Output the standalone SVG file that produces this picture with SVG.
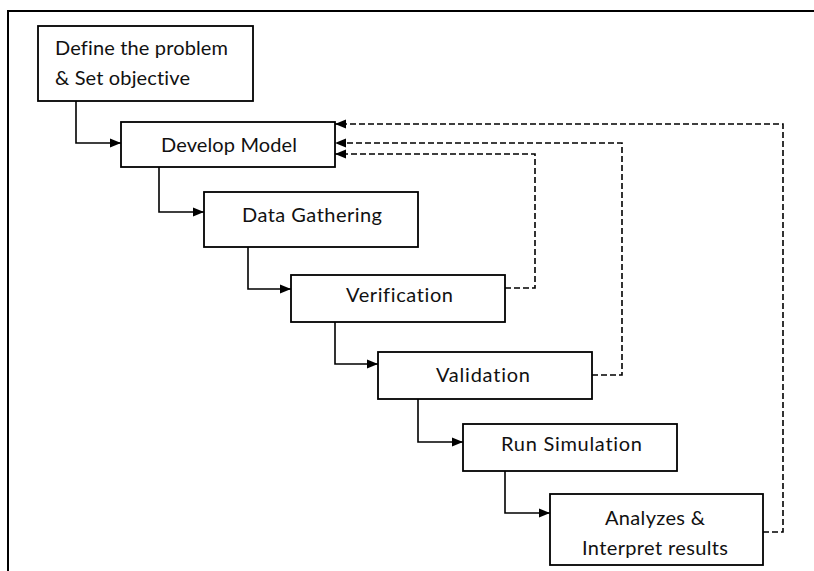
<svg xmlns="http://www.w3.org/2000/svg" width="814" height="571" viewBox="0 0 814 571">
  <style>
    .box { fill: #ffffff; stroke: #000000; stroke-width: 1.8; }
    .lbl { font-family: Lato, "Open Sans", "Liberation Sans", sans-serif; font-size: 20px; fill: #111111; font-variant-ligatures: none; font-feature-settings: "liga" 0, "clig" 0; }
    .flow { fill: none; stroke: #000000; stroke-width: 1.6; marker-end: url(#arrow); }
    .back { fill: none; stroke: #000000; stroke-width: 1.6; stroke-dasharray: 6 3; marker-end: url(#arrow); }
    .frame { fill: none; stroke: #000000; stroke-width: 2; }
  </style>
  <defs>
    <marker id="arrow" markerUnits="userSpaceOnUse" markerWidth="11" markerHeight="11" viewBox="0 0 11 11" refX="11" refY="5.5" orient="auto">
      <path d="M0,1 L11,5.5 L0,10 Z" fill="#000000"/>
    </marker>
  </defs>
  <rect width="814" height="571" fill="#ffffff"/>
  <path class="frame" d="M8,571 V11 H814"/>

  <g id="connectors">
    <path class="flow" d="M76,101 V143 H121"/>
    <path class="flow" d="M159,167 V212 H204"/>
    <path class="flow" d="M248,247 V289 H291"/>
    <path class="flow" d="M335,322 V364 H378"/>
    <path class="flow" d="M418,399 V442 H463"/>
    <path class="flow" d="M505,471 V513 H550"/>
    <path class="back" d="M505,288 H535 V154 H335"/>
    <path class="back" d="M592,375 H622 V143 H335"/>
    <path class="back" d="M763,532 H783 V124 H335"/>
  </g>

  <g id="define">
    <rect class="box" x="38" y="26" width="215" height="75"/>
    <text class="lbl" x="55" y="55" textLength="173">Define the problem</text>
    <text class="lbl" x="55" y="85" textLength="135">&amp; Set objective</text>
  </g>
  <g id="develop">
    <rect class="box" x="121" y="122" width="214" height="45"/>
    <text class="lbl" x="161" y="152" textLength="136">Develop Model</text>
  </g>
  <g id="data">
    <rect class="box" x="204" y="192" width="214" height="55"/>
    <text class="lbl" x="242" y="222" textLength="140">Data Gathering</text>
  </g>
  <g id="verification">
    <rect class="box" x="291" y="275" width="214" height="47"/>
    <text class="lbl" x="346" y="302" textLength="107">Verification</text>
  </g>
  <g id="validation">
    <rect class="box" x="378" y="352" width="214" height="47"/>
    <text class="lbl" x="436" y="382" textLength="94">Validation</text>
  </g>
  <g id="run">
    <rect class="box" x="463" y="424" width="214" height="47"/>
    <text class="lbl" x="501" y="451" textLength="141">Run Simulation</text>
  </g>
  <g id="analyze">
    <rect class="box" x="550" y="494" width="213" height="71"/>
    <text class="lbl" x="605" y="525" textLength="100">Analyzes &amp;</text>
    <text class="lbl" x="582" y="555" textLength="146">Interpret results</text>
  </g>
</svg>
